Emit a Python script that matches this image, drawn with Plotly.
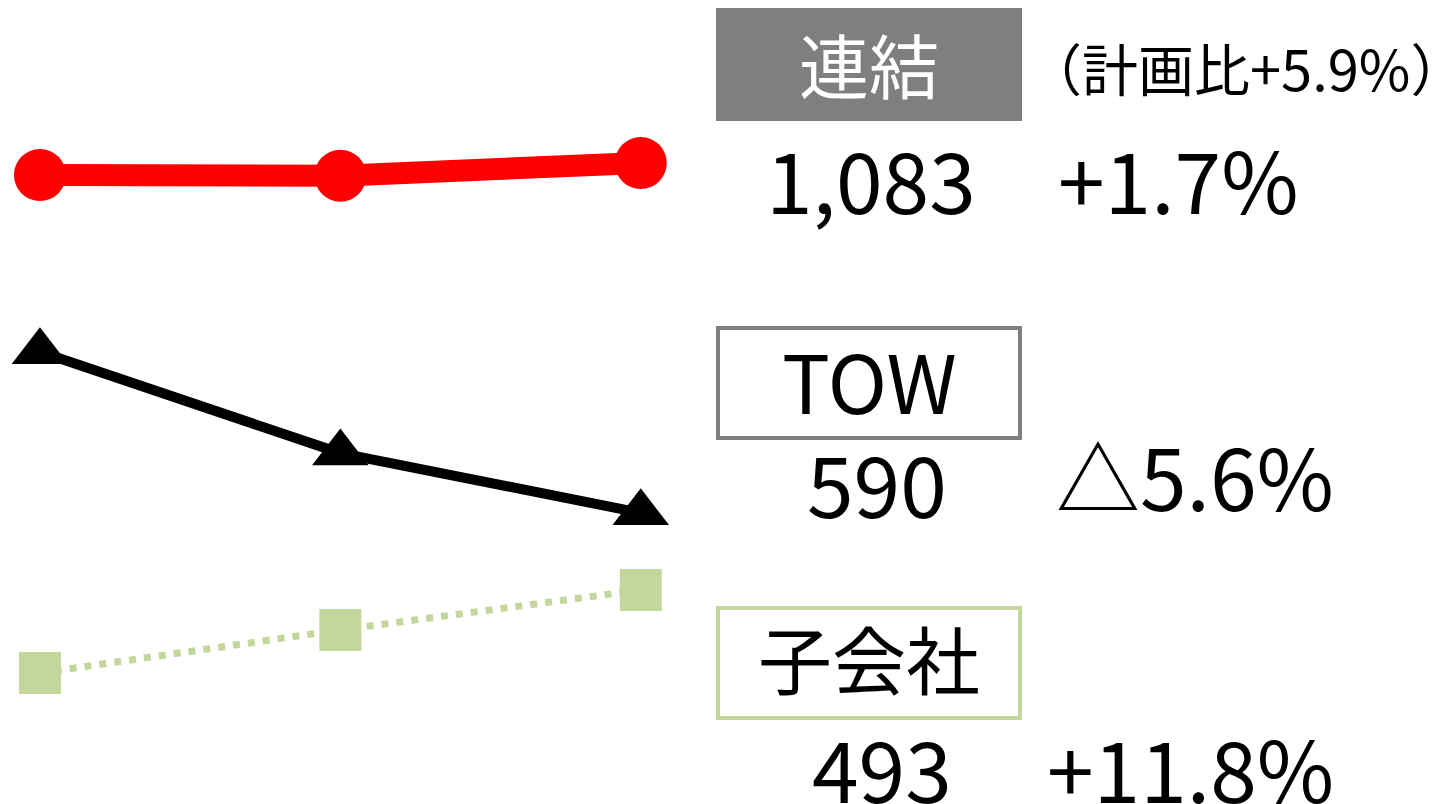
import plotly.graph_objects as go

# ---- data ----
periods = ["前期", "中間", "当期"]
consolidated = [1065, 1064, 1083]
tow = [625, 603, 590]
subsidiary = [441, 468, 493]

labels = ["連結", "TOW", "子会社"]
latest_values = ["1,083", "590", "493"]
changes = ["+1.7%", "△5.6%", "+11.8%"]
plan_note = "（計画比+5.9%）"

W, H = 1445, 804
RED = "#ff0000"
GREEN = "#c3d69b"
GRAY = "#7f7f7f"
FONT = "Noto Sans CJK JP"

x = [0, 1, 2]

fig = go.Figure()
fig.add_trace(go.Scatter(x=x, y=subsidiary, yaxis="y3", mode="lines+markers",
                         line=dict(color=GREEN, width=7, dash="7px,8px"),
                         marker=dict(symbol="square", size=42, color=GREEN),
                         hoverinfo="skip", showlegend=False))
fig.add_trace(go.Scatter(x=x, y=tow, yaxis="y2", mode="lines+markers",
                         line=dict(color="black", width=10),
                         marker=dict(symbol="triangle-up", size=49, color="black"),
                         hoverinfo="skip", showlegend=False))
fig.add_trace(go.Scatter(x=x, y=consolidated, yaxis="y", mode="lines+markers",
                         line=dict(color=RED, width=22),
                         marker=dict(symbol="circle", size=52, color=RED),
                         hoverinfo="skip", showlegend=False))

hidden = dict(visible=False, showgrid=False, zeroline=False, fixedrange=True)

def px(v):
    return v / W

def py(v):
    return 1 - v / H

fig.update_layout(
    width=W, height=H,
    margin=dict(l=0, r=0, t=0, b=0),
    paper_bgcolor="white", plot_bgcolor="white",
    xaxis=dict(domain=[0, 0.485], range=[-0.133, 2.2], **hidden),
    yaxis=dict(domain=[0, 1], range=[121.5, 1327.5], **hidden),
    yaxis2=dict(domain=[0, 1], range=[526.7, 701.5], overlaying="y", **hidden),
    yaxis3=dict(domain=[0, 1], range=[358.9, 862.7], overlaying="y", **hidden),
)

# label boxes
boxes = [
    dict(y0=10, y1=119, ty=64, fill=GRAY, line=GRAY, txtcolor="white", size=70),
    dict(y0=328, y1=438, ty=379, fill="white", line=GRAY, txtcolor="black", size=80),
    dict(y0=608, y1=718, ty=656, fill="white", line=GREEN, txtcolor="black", size=74),
]
for lab, b in zip(labels, boxes):
    fig.add_shape(type="rect", xref="paper", yref="paper",
                  x0=px(718), x1=px(1020), y0=py(b["y1"]), y1=py(b["y0"]),
                  fillcolor=b["fill"], line=dict(color=b["line"], width=4), layer="above")
    fig.add_annotation(xref="paper", yref="paper", x=px(869), y=py(b["ty"]),
                       text=lab, showarrow=False, xanchor="center", yanchor="middle",
                       font=dict(family=FONT, size=b["size"], color=b["txtcolor"]))

fig.add_annotation(xref="paper", yref="paper", x=px(1246), y=py(66), text=plan_note,
                   showarrow=False, xanchor="center", yanchor="middle",
                   font=dict(family=FONT, size=56, color="black"))

value_pos = [(871, 178), (877, 481), (882, 766)]
change_pos = [(1178, 178), (1195, 474), (1190, 766)]
for v, c, vp, cp in zip(latest_values, changes, value_pos, change_pos):
    fig.add_annotation(xref="paper", yref="paper", x=px(vp[0]), y=py(vp[1]), text=v,
                       showarrow=False, xanchor="center", yanchor="middle",
                       font=dict(family=FONT, size=84, color="black"))
    fig.add_annotation(xref="paper", yref="paper", x=px(cp[0]), y=py(cp[1]), text=c,
                       showarrow=False, xanchor="center", yanchor="middle",
                       font=dict(family=FONT, size=84, color="black"))

fig.write_html("out.html", config={"displayModeBar": False},
               post_script="document.body.style.margin='0';")
